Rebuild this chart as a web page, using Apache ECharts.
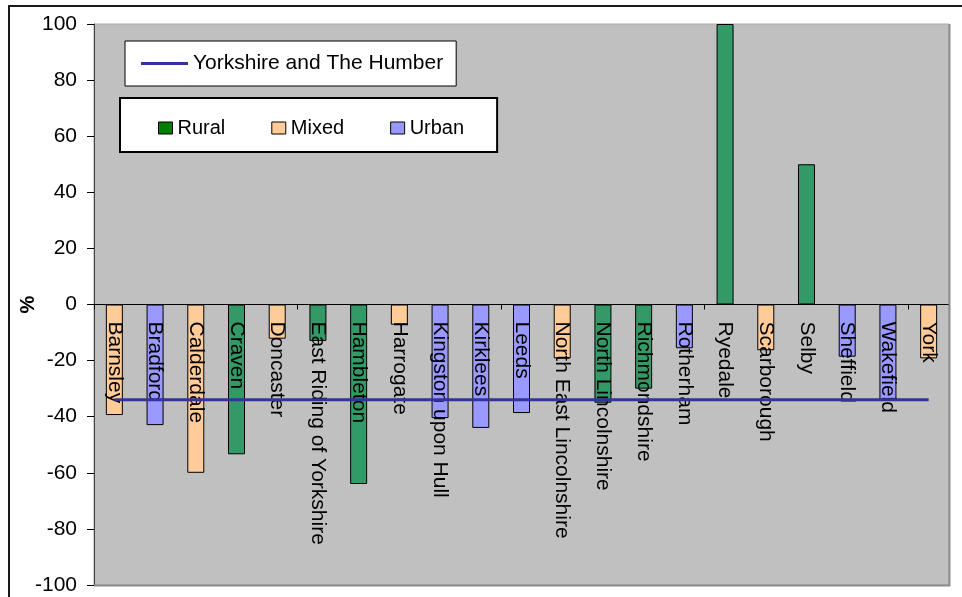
<!DOCTYPE html>
<html>
<head>
<meta charset="utf-8">
<title>Yorkshire and The Humber – change by district</title>
<script src="https://cdn.jsdelivr.net/npm/echarts@6/dist/echarts.min.js"></script>
<style>
  html, body { margin: 0; padding: 0; background: #ffffff; }
  #chart { width: 962px; height: 597px; }
</style>
</head>
<body>
<div id="chart"></div>
<script>
// Districts along the category axis
const districts = [
  'Barnsley', 'Bradford', 'Calderdale', 'Craven', 'Doncaster',
  'East Riding of Yorkshire', 'Hambleton', 'Harrogate', 'Kingston upon Hull',
  'Kirklees', 'Leeds', 'North East Lincolnshire', 'North Lincolnshire',
  'Richmondshire', 'Rotherham', 'Ryedale', 'Scarborough', 'Selby',
  'Sheffield', 'Wakefield', 'York'
];

// Settlement classification of each district
const districtType = [
  'Mixed', 'Urban', 'Mixed', 'Rural', 'Mixed',
  'Rural', 'Rural', 'Mixed', 'Urban',
  'Urban', 'Urban', 'Mixed', 'Rural',
  'Rural', 'Urban', 'Rural', 'Mixed', 'Rural',
  'Urban', 'Urban', 'Mixed'
];

// Percentage change per district
const districtChange = [
  -39.4, -43, -60, -53.4, -12.2,
  -13, -64, -7.2, -40.5,
  -44, -38.7, -19.2, -35,
  -30, -15.6, 100, -16.3, 50,
  -18.6, -34, -19.2
];

// Regional figure, drawn across every district
const regionChange = [
  -34, -34, -34, -34, -34, -34, -34, -34, -34, -34, -34,
  -34, -34, -34, -34, -34, -34, -34, -34, -34, -34
];

// Y axis range and step
const yMin = -100, yMax = 100, yStep = 20;

const typeNames = ['Rural', 'Mixed', 'Urban'];
const barColors = { Rural: '#339966', Mixed: '#FFCC99', Urban: '#9999FF' };
const swatchColors = { Rural: '#007F00', Mixed: '#FFCC99', Urban: '#9999FF' };
const lineName = 'Yorkshire and The Humber';
const FONT = '"Liberation Sans", Arial, sans-serif';

// One stacked bar series per type; each district carries a value in its own type only
const barSeries = typeNames.map(t => ({
  name: t,
  type: 'bar',
  stack: 'district',
  barWidth: 17,
  z: 2,
  itemStyle: { color: barColors[t], borderColor: '#000000', borderWidth: 1 },
  data: districtChange.map((v, i) => (districtType[i] === t ? v : null))
}));

const chart = echarts.init(document.getElementById('chart'), null, { renderer: 'canvas' });

const gridLeft = 94, gridTop = 24, gridRight = 949, gridBottom = 585;
// vertical position of the zero line inside the plot
const zeroY = gridTop + (gridBottom - gridTop) * (yMax - 0) / (yMax - yMin);

chart.setOption({
  animation: false,
  backgroundColor: '#ffffff',
  textStyle: { fontFamily: FONT },
  grid: {
    left: gridLeft, top: gridTop,
    width: gridRight - gridLeft, height: gridBottom - gridTop,
    containLabel: false,
    outerBoundsMode: 'none',
    show: true, backgroundColor: '#C0C0C0',
    borderColor: '#a6a6a6', borderWidth: 1
  },
  legend: [
    {
      data: [{ name: lineName, icon: 'rect', itemStyle: { color: '#333399' } }],
      left: 125, top: 41,
      orient: 'horizontal',
      backgroundColor: '#ffffff',
      borderColor: '#000000', borderWidth: 1,
      padding: [10, 13, 10, 16],
      itemWidth: 47, itemHeight: 3,
      textStyle: { fontFamily: FONT, fontSize: 21, color: '#000000', lineHeight: 25 }
    },
    {
      data: typeNames.map(t => ({
        name: t,
        icon: 'rect',
        itemStyle: { color: swatchColors[t], borderColor: '#000000', borderWidth: 1 }
      })),
      left: 120, top: 98,
      orient: 'horizontal',
      backgroundColor: '#ffffff',
      borderColor: '#000000', borderWidth: 2,
      padding: [19, 33, 13, 38],
      itemWidth: 14, itemHeight: 12,
      itemGap: 46,
      textStyle: { fontFamily: FONT, fontSize: 20, color: '#000000', lineHeight: 22 }
    }
  ],
  xAxis: [
    {
      // zero line with its tick marks
      type: 'category',
      data: districts,
      z: 5,
      axisLine: { onZero: true, lineStyle: { color: '#000000', width: 1 } },
      axisTick: { show: true, alignWithLabel: false, length: 5, lineStyle: { color: '#000000' } },
      axisLabel: { show: false },
      splitLine: { show: false }
    },
    {
      // district names hung from the zero line, drawn over the bars
      type: 'category',
      data: districts,
      position: 'bottom',
      offset: -(gridBottom - zeroY),
      z: 6,
      axisLine: { show: false, onZero: false },
      axisTick: { show: false },
      axisLabel: {
        rotate: -90,
        margin: 17,
        interval: 0,
        fontFamily: FONT,
        fontSize: 21,
        color: '#000000'
      },
      splitLine: { show: false }
    }
  ],
  yAxis: {
    type: 'value',
    min: yMin, max: yMax, interval: yStep,
    name: '%',
    nameLocation: 'middle',
    nameRotate: 90,
    nameGap: 56,
    nameMoveOverlap: false,
    nameTextStyle: { fontFamily: FONT, fontSize: 20, fontWeight: 'bold', color: '#000000' },
    axisLine: { show: true, lineStyle: { color: '#404040', width: 1 } },
    axisTick: { show: true, length: 7, lineStyle: { color: '#000000' } },
    axisLabel: { margin: 17, fontFamily: FONT, fontSize: 21, color: '#000000' },
    splitLine: { show: false }
  },
  series: barSeries.concat([
    {
      name: lineName,
      type: 'line',
      z: 10,
      symbol: 'none',
      lineStyle: { color: '#333399', width: 3 },
      itemStyle: { color: '#333399' },
      data: regionChange
    }
  ]),
  graphic: [
    // outer chart frame
    {
      type: 'rect', z: 100, silent: true,
      shape: { x: 9, y: 6, width: 1200, height: 900 },
      style: { fill: 'none', stroke: '#1a1a1a', lineWidth: 2 }
    },
    // darker right and bottom edges of the plot area
    {
      type: 'line', z: 100, silent: true,
      shape: { x1: gridRight + 0.5, y1: gridTop, x2: gridRight + 0.5, y2: gridBottom + 1 },
      style: { stroke: '#8c8c8c', lineWidth: 2 }
    },
    {
      type: 'line', z: 100, silent: true,
      shape: { x1: gridLeft, y1: gridBottom + 0.5, x2: gridRight + 1, y2: gridBottom + 0.5 },
      style: { stroke: '#8c8c8c', lineWidth: 2 }
    }
  ]
});
</script>
</body>
</html>
